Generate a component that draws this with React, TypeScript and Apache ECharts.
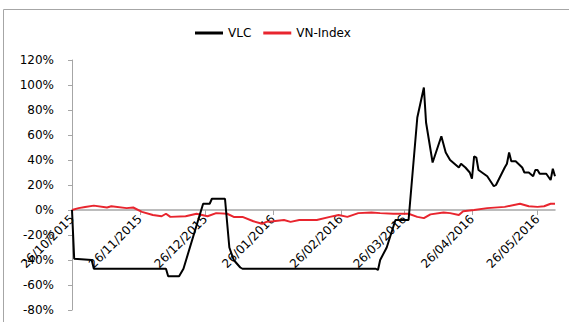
import React, { useEffect, useRef } from "react";
import * as echarts from "echarts";

const startDate = [2015, 9, 26]; // 26/10/2015
const dayCount = 222; // through 03/06/2016

const vlcDates = [
  "26/10/2015", "27/10/2015", "04/11/2015", "05/11/2015", "08/12/2015", "09/12/2015",
  "14/12/2015", "16/12/2015", "25/12/2015", "28/12/2015", "29/12/2015", "04/01/2016",
  "06/01/2016", "08/01/2016", "11/01/2016", "12/01/2016", "13/03/2016", "14/03/2016",
  "15/03/2016", "18/03/2016", "22/03/2016", "28/03/2016", "01/04/2016", "04/04/2016",
  "05/04/2016", "08/04/2016", "12/04/2016", "14/04/2016", "16/04/2016", "20/04/2016",
  "21/04/2016", "23/04/2016", "25/04/2016", "26/04/2016", "27/04/2016", "28/04/2016",
  "29/04/2016", "03/05/2016", "06/05/2016", "07/05/2016", "11/05/2016", "12/05/2016",
  "13/05/2016", "14/05/2016", "16/05/2016", "19/05/2016", "20/05/2016", "22/05/2016",
  "24/05/2016", "25/05/2016", "26/05/2016", "27/05/2016", "30/05/2016", "01/06/2016",
  "02/06/2016", "03/06/2016",
];
const vlcValues = [
  0, -0.39, -0.4, -0.47, -0.47, -0.53,
  -0.53, -0.47, 0.05, 0.05, 0.09, 0.09,
  -0.3, -0.4, -0.46, -0.47, -0.47, -0.48,
  -0.4, -0.3, -0.08, -0.08, 0.74, 0.98,
  0.7, 0.38, 0.59, 0.46, 0.4, 0.34,
  0.37, 0.34, 0.3, 0.25, 0.43, 0.42,
  0.32, 0.27, 0.19, 0.2, 0.34, 0.37,
  0.46, 0.39, 0.39, 0.34, 0.3, 0.3,
  0.27, 0.32, 0.32, 0.29, 0.29, 0.24,
  0.33, 0.27,
];

const vnDates = [
  "26/10/2015", "29/10/2015", "01/11/2015", "05/11/2015", "11/11/2015", "13/11/2015",
  "20/11/2015", "23/11/2015", "27/11/2015", "02/12/2015", "06/12/2015", "08/12/2015",
  "10/12/2015", "17/12/2015", "22/12/2015", "27/12/2015", "31/12/2015", "05/01/2016",
  "08/01/2016", "12/01/2016", "17/01/2016", "21/01/2016", "23/01/2016", "26/01/2016",
  "31/01/2016", "03/02/2016", "07/02/2016", "15/02/2016", "21/02/2016", "25/02/2016",
  "29/02/2016", "05/03/2016", "11/03/2016", "15/03/2016", "21/03/2016", "28/03/2016",
  "01/04/2016", "04/04/2016", "07/04/2016", "13/04/2016", "16/04/2016", "20/04/2016",
  "22/04/2016", "27/04/2016", "03/05/2016", "11/05/2016", "18/05/2016", "22/05/2016",
  "26/05/2016", "29/05/2016", "01/06/2016", "03/06/2016",
];
const vnValues = [
  0, 0.015, 0.024, 0.035, 0.02, 0.03,
  0.015, 0.02, -0.015, -0.04, -0.05, -0.03,
  -0.055, -0.05, -0.03, -0.05, -0.025, -0.03,
  -0.055, -0.055, -0.09, -0.11, -0.095, -0.09,
  -0.08, -0.095, -0.08, -0.08, -0.055, -0.04,
  -0.055, -0.025, -0.02, -0.025, -0.03, -0.03,
  -0.055, -0.065, -0.035, -0.02, -0.025, -0.04,
  -0.01, 0.0, 0.015, 0.025, 0.05, 0.03,
  0.025, 0.03, 0.05, 0.05,
];

const yTicks = { min: -0.8, max: 1.2, interval: 0.2 };

function pad(n: number) {
  return n < 10 ? "0" + n : "" + n;
}

function buildCategories(): string[] {
  const out: string[] = [];
  const d = new Date(Date.UTC(startDate[0], startDate[1], startDate[2]));
  for (let i = 0; i < dayCount; i++) {
    out.push(pad(d.getUTCDate()) + "/" + pad(d.getUTCMonth() + 1) + "/" + d.getUTCFullYear());
    d.setUTCDate(d.getUTCDate() + 1);
  }
  return out;
}

const gridTop = 60;
const gridBottom = 12;
const chartH = 322;

export default function App() {
  const ref = useRef<HTMLDivElement>(null);
  useEffect(() => {
    if (!ref.current) return;
    const chart = echarts.init(ref.current, null, { renderer: "svg" });
    const categories = buildCategories();
    const font = "DejaVu Sans";
    const is26 = (_i: number, v: string) => v.startsWith("26/");
    const plotH = chartH - gridTop - gridBottom;
    const zeroOffset = -plotH * ((0 - yTicks.min) / (yTicks.max - yTicks.min));
    chart.setOption({
      animation: false,
      textStyle: { fontFamily: font },
      graphic: [
        {
          type: "rect",
          shape: { x: 3.5, y: 9.5, width: 600, height: 400 },
          style: { fill: "none", stroke: "#a6a6a6", lineWidth: 1 },
          silent: true,
        },
      ],
      legend: {
        top: 22,
        left: 190,
        itemWidth: 28,
        itemHeight: 3,
        itemGap: 12,
        icon: "rect",
        textStyle: { fontFamily: font, fontSize: 12, color: "#000" },
        data: ["VLC", "VN-Index"],
      },
      grid: {
        left: 72,
        right: 14,
        top: gridTop,
        bottom: gridBottom,
        containLabel: false,
        outerBoundsMode: "none",
      },
      xAxis: {
        type: "category",
        data: categories,
        boundaryGap: false,
        position: "bottom",
        offset: zeroOffset,
        axisLine: { onZero: false, lineStyle: { color: "#a6a6a6", width: 1.5 } },
        axisTick: { show: true, interval: is26, length: 5, lineStyle: { color: "#a6a6a6" } },
        axisLabel: {
          interval: is26,
          rotate: 45,
          margin: 7,
          fontFamily: font,
          fontSize: 12,
          color: "#000",
          hideOverlap: false,
        },
        splitLine: { show: false },
      },
      yAxis: {
        type: "value",
        min: yTicks.min,
        max: yTicks.max,
        interval: yTicks.interval,
        axisLine: { show: true, lineStyle: { color: "#a6a6a6" } },
        axisTick: { show: true, length: 4, lineStyle: { color: "#a6a6a6" } },
        axisLabel: {
          margin: 18,
          fontFamily: font,
          fontSize: 12,
          color: "#000",
          formatter: (v: number) => Math.round(v * 100) + "%",
        },
        splitLine: { show: false },
      },
      series: [
        {
          name: "VLC",
          type: "line",
          data: vlcDates.map((d, i) => [d, vlcValues[i]]),
          showSymbol: false,
          symbol: "none",
          connectNulls: true,
          itemStyle: { color: "#000" },
          lineStyle: { color: "#000", width: 2 },
          z: 3,
        },
        {
          name: "VN-Index",
          type: "line",
          data: vnDates.map((d, i) => [d, vnValues[i]]),
          showSymbol: false,
          symbol: "none",
          connectNulls: true,
          itemStyle: { color: "#e8252e" },
          lineStyle: { color: "#e8252e", width: 2 },
          z: 2,
        },
      ],
    });
    return () => chart.dispose();
  }, []);
  return (
    <div
      ref={ref}
      style={{ position: "fixed", left: 0, top: 0, width: 569, height: 322, background: "#fff" }}
    />
  );
}
